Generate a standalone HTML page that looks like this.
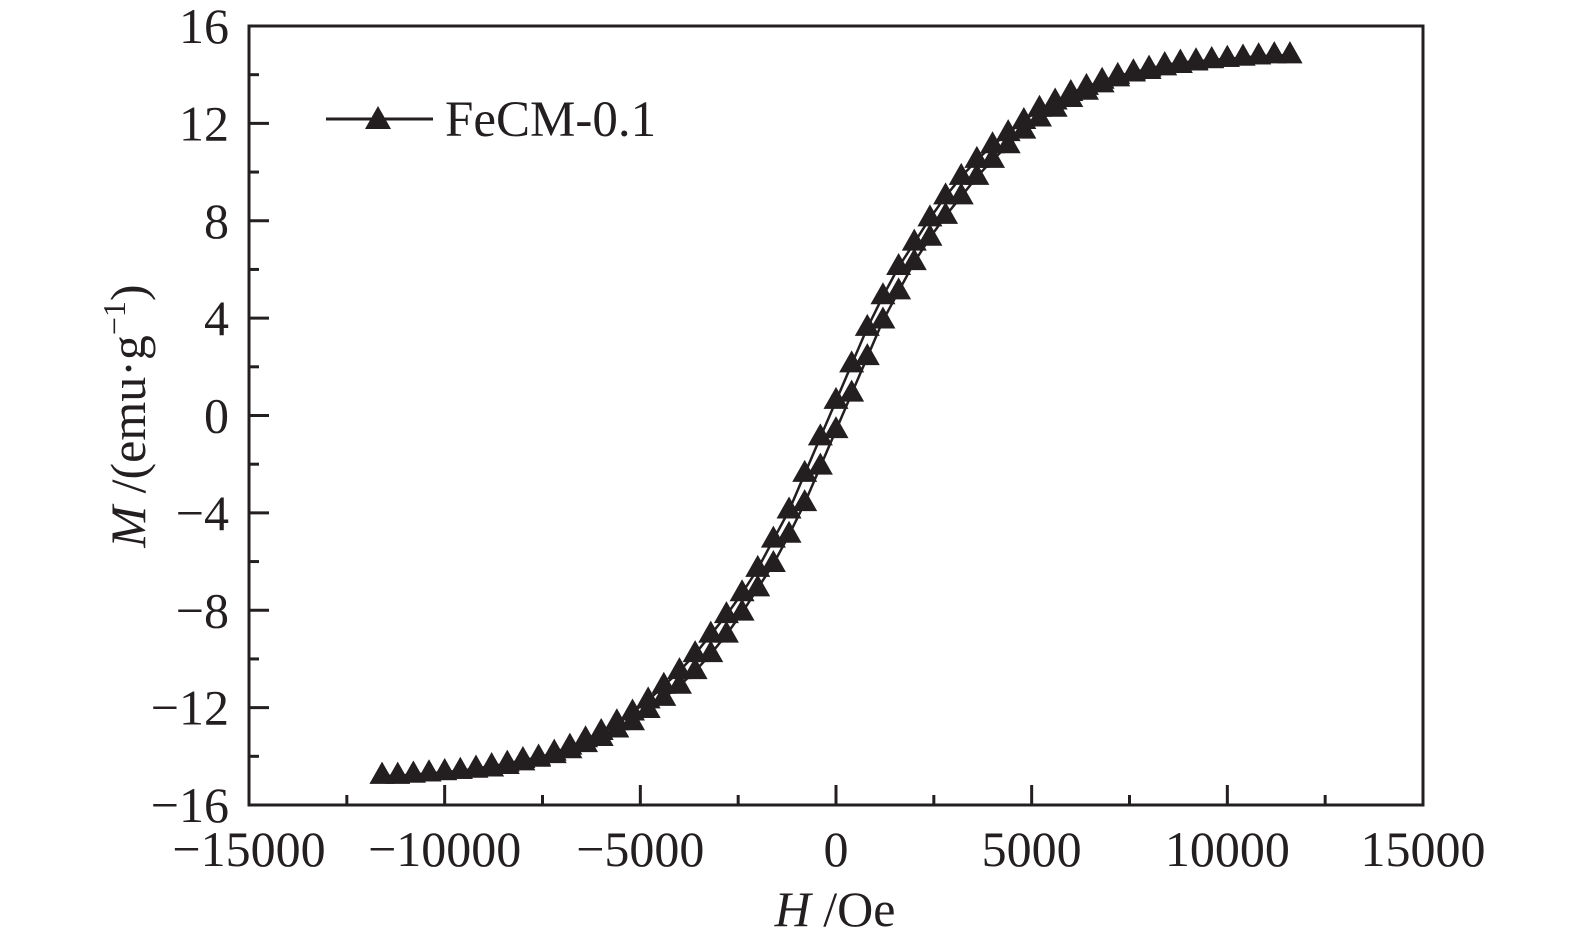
<!DOCTYPE html>
<html><head><meta charset="utf-8"><style>
html,body{margin:0;padding:0;background:#fff;}
svg{display:block;font-family:"Liberation Serif",serif;}
</style></head><body>
<svg id="chart" width="1575" height="947" viewBox="0 0 1575 947">
<g id="axes"></g>
<g id="series"></g>
<g id="legend">
  <line x1="326" y1="119" x2="433" y2="119" stroke="#231f20" stroke-width="3"/>
  <polygon points="365,129 391,129 378,106" fill="#231f20"/>
  <text x="445" y="136" font-size="51" fill="#231f20">FeCM-0.1</text>
</g>
<text x="835" y="926" font-size="50" text-anchor="middle" fill="#231f20"><tspan font-style="italic">H</tspan> /Oe</text>
<text transform="translate(145,416) rotate(-90)" font-size="50" text-anchor="middle" fill="#231f20"><tspan font-style="italic">M</tspan> /(emu·g<tspan font-size="32" dy="-20">−1</tspan><tspan dy="20">)</tspan></text>
</svg>
<script>
const xTicks=[-15000,-10000,-5000,0,5000,10000,15000];
const xTickLabels=["−15000","−10000","−5000","0","5000","10000","15000"];
const yTicks=[-16,-12,-8,-4,0,4,8,12,16];
const yTickLabels=["−16","−12","−8","−4","0","4","8","12","16"];
const fieldH=[-11600,-11200,-10800,-10400,-10000,-9600,-9200,-8800,-8400,-8000,-7600,-7200,-6800,-6400,-6000,-5600,-5200,-4800,-4400,-4000,-3600,-3200,-2800,-2400,-2000,-1600,-1200,-800,-400,0,400,800,1200,1600,2000,2400,2800,3200,3600,4000,4400,4800,5200,5600,6000,6400,6800,7200,7600,8000,8400,8800,9200,9600,10000,10400,10800,11200,11600];
const magUpper=[-14.8,-14.8,-14.75,-14.7,-14.65,-14.6,-14.5,-14.4,-14.3,-14.15,-14.05,-13.85,-13.6,-13.3,-13.0,-12.6,-12.2,-11.7,-11.1,-10.5,-9.8,-9.0,-8.2,-7.3,-6.3,-5.1,-3.9,-2.4,-0.9,0.6,2.1,3.6,4.9,6.1,7.1,8.1,9.0,9.8,10.5,11.1,11.6,12.1,12.6,12.9,13.25,13.5,13.75,13.95,14.1,14.25,14.4,14.5,14.55,14.6,14.65,14.7,14.75,14.8,14.8];
const magLower=[-14.8,-14.8,-14.75,-14.7,-14.65,-14.6,-14.55,-14.5,-14.4,-14.25,-14.1,-13.95,-13.75,-13.5,-13.25,-12.9,-12.6,-12.1,-11.6,-11.1,-10.5,-9.8,-9.0,-8.1,-7.1,-6.1,-4.9,-3.6,-2.1,-0.6,0.9,2.4,3.9,5.1,6.3,7.3,8.2,9.0,9.8,10.5,11.1,11.7,12.2,12.6,13.0,13.3,13.6,13.85,14.05,14.15,14.3,14.4,14.5,14.6,14.65,14.7,14.75,14.8,14.8];
const L=249,R=1423,T=26,B=805;
const X=v=>L+(v+15000)/30000*(R-L);
const Y=v=>B-(v+16)/32*(B-T);
const NS="http://www.w3.org/2000/svg";
function mk(tag,attrs,parent){const e=document.createElementNS(NS,tag);for(const k in attrs)e.setAttribute(k,attrs[k]);parent.appendChild(e);return e;}
const axes=document.getElementById('axes');
const frame=mk('rect',{x:L,y:T,width:R-L,height:B-T,fill:'none',stroke:'#231f20','stroke-width':3},axes);


xTicks.forEach((v,i)=>{
  const t=mk('line',{x1:X(v),x2:X(v),y1:B,y2:B-20,stroke:'#231f20','stroke-width':3},axes);
  
  
  if(i<xTicks.length-1){const m=(v+xTicks[i+1])/2;
    const mt=mk('line',{x1:X(m),x2:X(m),y1:B,y2:B-10,stroke:'#231f20','stroke-width':3},axes);
    
    }
  const lb=mk('text',{x:X(v),y:866,'font-size':50,'text-anchor':'middle',fill:'#231f20'},axes);
  lb.textContent=xTickLabels[i];
  
  
});
yTicks.forEach((v,i)=>{
  const t=mk('line',{x1:L,x2:L+20,y1:Y(v),y2:Y(v),stroke:'#231f20','stroke-width':3},axes);
  
  
  if(i<yTicks.length-1){const m=(v+yTicks[i+1])/2;
    const mt=mk('line',{x1:L,x2:L+10,y1:Y(m),y2:Y(m),stroke:'#231f20','stroke-width':3},axes);
    
    }
  const lb=mk('text',{x:229,y:Y(v)+17,'font-size':50,'text-anchor':'end',fill:'#231f20'},axes);
  lb.textContent=yTickLabels[i];
  
  
});
const ser=document.getElementById('series');
[magUpper,magLower].forEach((arr,bi)=>{
  const p=mk('polyline',{points:fieldH.map((h,i)=>X(h)+','+Y(arr[i])).join(' '),fill:'none',stroke:'#231f20','stroke-width':2.5},ser);
  
  
  fieldH.forEach((h,i)=>{
    const cx=X(h),cy=Y(arr[i]);
    const m=mk('polygon',{points:`${cx-12.5},${cy+8} ${cx+12.5},${cy+8} ${cx},${cy-14}`,fill:'#231f20'},ser);
    
    
  });
});
</script>
</body></html>
